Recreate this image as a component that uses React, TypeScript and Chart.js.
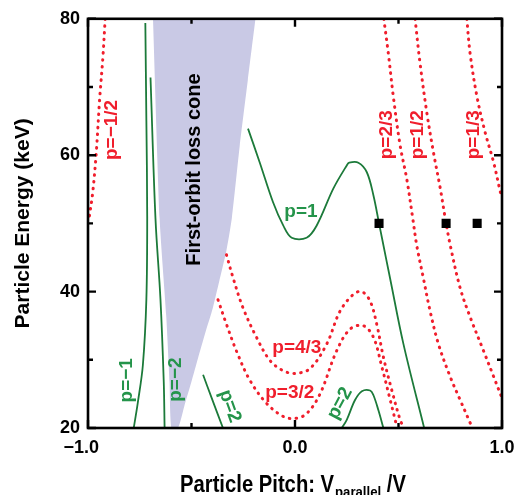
import React, { useEffect, useRef } from 'react';
import { Chart, registerables } from 'chart.js';

Chart.register(...registerables);

const FONT = "'Liberation Sans', Arial, Helvetica, sans-serif";

// ---------- axis ticks ----------
const xTickLabels: Record<string, string> = { '-1': '\u22121.0\u2007\u2009', '0': '0.0', '1': '1.0' };
const yTickLabels = [20, 40, 60, 80];
const xMajor = [-1, 0, 1];
const yMajor = [20, 40, 60, 80];

// ---------- loss cone boundary ----------
const coneLeftX = [-0.686, -0.654, -0.622, -0.606, -0.597];
const coneLeftY = [80, 50.7, 36.4, 26.7, 20];
const coneRightX = [-0.565, -0.533, -0.501, -0.468, -0.434, -0.397, -0.366, -0.332, -0.305, -0.267, -0.228, -0.191];
const coneRightY = [20, 23.4, 26.7, 30.3, 33.9, 37.6, 41.5, 45.9, 50.8, 61.4, 71.0, 80];

// ---------- green (solid) curves ----------
const pNeg1X = [-0.723, -0.718, -0.714, -0.718, -0.735, -0.759, -0.779];
const pNeg1Y = [79.4, 65, 51, 38.9, 29.2, 23.8, 20];
const pNeg2X = [-0.698, -0.674, -0.65, -0.634, -0.63];
const pNeg2Y = [71.4, 50.7, 38.9, 26.7, 20];
const p2LeftX = [-0.444, -0.405, -0.348];
const p2LeftY = [27.8, 24.6, 20];
const p1X = [-0.227, -0.17, -0.106, -0.057, -0.016, 0.056, 0.105, 0.185, 0.25, 0.262, 0.306, 0.347, 0.379, 0.406, 0.443, 0.459, 0.524, 0.624];
const p1Y = [63.9, 58.9, 53.1, 49.7, 47.9, 47.9, 49.7, 55.1, 58.5, 58.9, 58.9, 57.5, 54.1, 50.0, 44.4, 42.0, 32.3, 20];
const p2RightX = [0.226, 0.25, 0.29, 0.323, 0.363, 0.379, 0.403, 0.427];
const p2RightY = [20, 21.2, 24.1, 25.4, 25.5, 24.8, 22.6, 20];

// ---------- red (dotted) curves ----------
const pNegHalfX = [-0.917, -0.928, -0.944, -0.96, -0.977, -0.993];
const pNegHalfY = [80, 74.4, 68.1, 60.4, 54.6, 51.1];
const p43X = [-0.331, -0.299, -0.251, -0.186, -0.121, -0.057, 0.0, 0.072, 0.153, 0.217, 0.282, 0.323, 0.363, 0.395, 0.427, 0.468, 0.508, 0.527];
const p43Y = [45.4, 42.0, 37.6, 33.3, 29.9, 28.4, 28.0, 28.7, 32.3, 37.1, 39.6, 40.0, 38.6, 35.2, 30.4, 25.5, 21.2, 20];
const p32X = [-0.372, -0.331, -0.283, -0.218, -0.137, -0.057, 0.0, 0.056, 0.121, 0.201, 0.266, 0.33, 0.379, 0.42, 0.46, 0.492];
const p32Y = [38.8, 35.2, 31.3, 27.0, 23.6, 21.7, 21.4, 22.1, 25.0, 31.3, 34.5, 35.0, 33.3, 28.9, 24.1, 20.2];
const p23X = [0.429, 0.451, 0.475, 0.508, 0.54, 0.569, 0.588, 0.62, 0.653, 0.693, 0.75, 0.798, 0.847];
const p23Y = [80, 74.9, 68.6, 61.4, 56.5, 50.7, 46.8, 42.0, 37.1, 32.3, 27.5, 24.1, 20.7];
const p12X = [0.58, 0.604, 0.637, 0.669, 0.702, 0.726, 0.75, 0.798, 0.847, 0.911, 0.96, 0.992, 1.0];
const p12Y = [80, 73.5, 66.2, 60.4, 55.1, 50.7, 46.8, 40.5, 36.2, 31.3, 27.5, 25.0, 24.4];
const p13X = [0.83, 0.846, 0.879, 0.919, 0.96, 0.992, 1.0];
const p13Y = [80, 74.9, 68.6, 63.3, 58.9, 54.6, 53.8];

// ---------- marked points ----------
const squareX = [0.406, 0.73, 0.88];
const squareY = [50, 50, 50];

// ---------- labels ----------
const labelText = ['p=\u22121/2', 'First-orbit loss cone', 'p=\u22121', 'p=\u22122', 'p=2', 'p=1', 'p=4/3', 'p=3/2', 'p=2', 'p=2/3', 'p=1/2', 'p=1/3'];
const labelX = [-0.886, -0.484, -0.814, -0.577, -0.315, 0.029, 0.009, -0.025, 0.217, 0.445, 0.595, 0.862];
const labelY = [63.7, 57.9, 27.0, 27.1, 23.2, 51.7, 31.8, 25.2, 23.6, 63.0, 63.0, 63.0];
const labelRot = [-90, -90, -90, -90, 70, 0, 0, 0, -62, -90, -90, -90];
const labelKind = ['r', 'k', 'g', 'g', 'g', 'g', 'r', 'r', 'g', 'r', 'r', 'r'];

const GREEN = '#1c7a3a';
const GREEN_TXT = '#24944a';
const RED = '#f01e2c';
const CONE = '#c9c9e5';

const pts = (xs: number[], ys: number[]) => xs.map((x, i) => ({ x, y: ys[i] }));

const green = (xs: number[], ys: number[]) => ({
  data: pts(xs, ys), showLine: true, borderColor: GREEN, borderWidth: 1.8,
  pointRadius: 0, tension: 0.35, fill: false, order: 1,
});
const red = (xs: number[], ys: number[]) => ({
  data: pts(xs, ys), showLine: true, borderColor: RED, borderWidth: 3,
  borderDash: [0.6, 6.2], borderCapStyle: 'round', pointRadius: 0, tension: 0.35, fill: false, order: 1,
});

export default function App() {
  const ref = useRef<HTMLCanvasElement>(null);
  useEffect(() => {
    document.body.style.margin = '0';
    const canvas = ref.current!;

    const framePlugin = {
      id: 'frame',
      afterDraw(chart: any) {
        const { ctx, chartArea: a, scales } = chart;
        const xs = scales.x, ys = scales.y;
        ctx.save();
        ctx.strokeStyle = '#000';
        ctx.lineWidth = 2.6;
        ctx.lineCap = 'square';
        ctx.strokeRect(a.left, a.top, a.right - a.left, a.bottom - a.top);
        ctx.lineWidth = 2.4;
        ctx.lineCap = 'butt';
        xs.ticks.forEach((t: any) => {
          const px = xs.getPixelForValue(t.value);
          const len = xMajor.includes(t.value) ? 8 : 5;
          ctx.beginPath();
          ctx.moveTo(px, a.bottom); ctx.lineTo(px, a.bottom - len);
          ctx.moveTo(px, a.top); ctx.lineTo(px, a.top + len);
          ctx.stroke();
        });
        ys.ticks.forEach((t: any) => {
          const py = ys.getPixelForValue(t.value);
          const len = yMajor.includes(t.value) ? 8 : 5;
          ctx.beginPath();
          ctx.moveTo(a.left, py); ctx.lineTo(a.left + len, py);
          ctx.moveTo(a.right, py); ctx.lineTo(a.right - len, py);
          ctx.stroke();
        });
        // x-axis title with subscript
        ctx.fillStyle = '#000';
        ctx.textBaseline = 'alphabetic';
        ctx.textAlign = 'left';
        const sx = 0.88;
        ctx.translate(180, 492);
        ctx.scale(sx, 1);
        ctx.font = `bold 23px ${FONT}`;
        const main = 'Particle Pitch: V';
        ctx.fillText(main, 0, 0);
        let w = ctx.measureText(main).width;
        ctx.font = `bold 15px ${FONT}`;
        const sub = 'parallel';
        ctx.fillText(sub, w + 1, 5);
        w += 1 + ctx.measureText(sub).width;
        ctx.font = `bold 23px ${FONT}`;
        ctx.fillText(' /V', w, 0);
        ctx.restore();
      },
    };

    const labelPlugin = {
      id: 'labels',
      afterDatasetsDraw(chart: any) {
        const { ctx, scales } = chart;
        ctx.save();
        labelText.forEach((txt, i) => {
          const px = scales.x.getPixelForValue(labelX[i]);
          const py = scales.y.getPixelForValue(labelY[i]);
          const k = labelKind[i];
          ctx.save();
          ctx.translate(px, py);
          ctx.rotate((labelRot[i] * Math.PI) / 180);
          ctx.fillStyle = k === 'r' ? RED : k === 'g' ? GREEN_TXT : '#000';
          ctx.font = k === 'k' ? `bold 20px ${FONT}` : `bold 19px ${FONT}`;
          ctx.textAlign = 'center';
          ctx.textBaseline = 'middle';
          ctx.fillText(txt, 0, 0);
          ctx.restore();
        });
        ctx.restore();
      },
    };

    const chart = new Chart(canvas, {
      type: 'scatter',
      data: {
        datasets: [
          {
            data: [...pts(coneLeftX, coneLeftY), ...pts(coneRightX, coneRightY)],
            showLine: true, borderWidth: 0, borderColor: CONE, backgroundColor: CONE,
            fill: 'shape', pointRadius: 0, tension: 0.2, order: 5,
          } as any,
          green(pNeg1X, pNeg1Y),
          green(pNeg2X, pNeg2Y),
          green(p2LeftX, p2LeftY),
          green(p1X, p1Y),
          green(p2RightX, p2RightY),
          red(pNegHalfX, pNegHalfY),
          red(p43X, p43Y),
          red(p32X, p32Y),
          red(p23X, p23Y),
          red(p12X, p12Y),
          red(p13X, p13Y),
          {
            data: pts(squareX, squareY), showLine: false, pointStyle: 'rect',
            pointRadius: 6.4, backgroundColor: '#000', borderWidth: 0, order: 0,
          } as any,
        ],
      },
      options: {
        animation: false,
        responsive: false,
        devicePixelRatio: 1,
        layout: { padding: { top: 15, right: 25, left: 0, bottom: 0 } },
        plugins: { legend: { display: false }, tooltip: { enabled: false } },
        scales: {
          x: {
            type: 'linear', min: -1, max: 1,
            grid: { display: false, drawTicks: false },
            border: { display: false },
            ticks: {
              stepSize: 0.5, padding: 9, color: '#000', maxRotation: 0,
              font: { family: FONT, size: 18, weight: 'bold' },
              callback: (v: any) => xTickLabels[String(v)] ?? '',
            },
            afterFit: (s: any) => { s.height = 67; },
          },
          y: {
            type: 'linear', min: 20, max: 80,
            grid: { display: false, drawTicks: false },
            border: { display: false },
            title: {
              display: true, text: 'Particle Energy (keV)', color: '#000',
              font: { family: FONT, size: 21, weight: 'bold' },
              padding: { top: 11, bottom: 0 },
            },
            ticks: {
              stepSize: 10, padding: 8, color: '#000',
              font: { family: FONT, size: 18, weight: 'bold' },
              callback: (v: any) => (yTickLabels.includes(v) ? String(v) : ''),
            },
            afterFit: (s: any) => { s.width = 88; },
          },
        },
      } as any,
      plugins: [labelPlugin, framePlugin],
    });
    return () => chart.destroy();
  }, []);
  return (
    <div style={{ width: 527, height: 495 }}>
      <canvas ref={ref} width={527} height={495} style={{ display: 'block' }} />
    </div>
  );
}
